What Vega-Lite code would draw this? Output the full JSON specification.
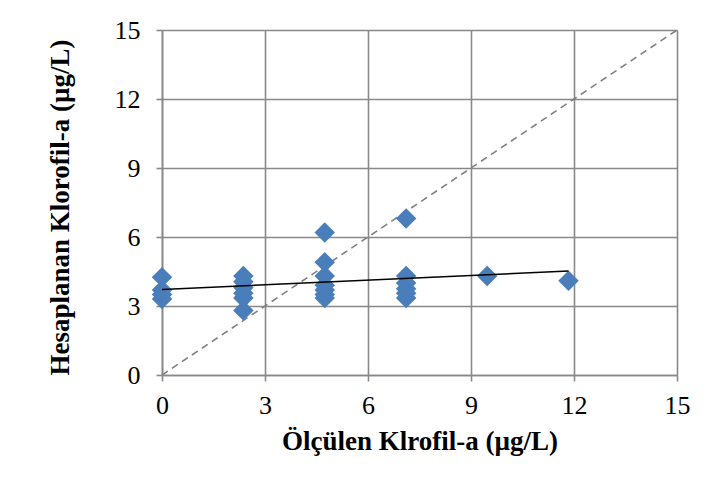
{
  "$schema": "https://vega.github.io/schema/vega-lite/v6.json",
  "autosize": "none",
  "width": 515,
  "height": 345,
  "padding": {"left": 162, "top": 30, "right": 30, "bottom": 117},
  "background": "white",
  "config": {
    "view": {"stroke": null},
    "font": "Liberation Serif",
    "axis": {
      "gridColor": "#898989",
      "gridWidth": 1.6,
      "gridOpacity": 1,
      "domainColor": "#898989",
      "domainWidth": 1.6,
      "tickColor": "#898989",
      "tickWidth": 1.6,
      "tickSize": 6,
      "labelFlush": false,
      "labelFont": "Liberation Serif",
      "labelFontSize": 26,
      "labelColor": "black",
      "titleFont": "Liberation Serif",
      "titleFontSize": 27,
      "titleFontWeight": "bold",
      "titleColor": "black"
    }
  },
  "datasets": {
    "points": [
      {"x": 0, "y": 4.25}, {"x": 0, "y": 3.7}, {"x": 0, "y": 3.5}, {"x": 0, "y": 3.3},
      {"x": 2.37, "y": 4.3}, {"x": 2.37, "y": 4.05}, {"x": 2.37, "y": 3.8}, {"x": 2.37, "y": 3.55}, {"x": 2.37, "y": 3.35}, {"x": 2.37, "y": 2.8},
      {"x": 4.74, "y": 6.2}, {"x": 4.74, "y": 4.9}, {"x": 4.74, "y": 4.3}, {"x": 4.74, "y": 3.9}, {"x": 4.74, "y": 3.7}, {"x": 4.74, "y": 3.5}, {"x": 4.74, "y": 3.35},
      {"x": 7.11, "y": 6.8}, {"x": 7.11, "y": 4.3}, {"x": 7.11, "y": 4.0}, {"x": 7.11, "y": 3.75}, {"x": 7.11, "y": 3.55}, {"x": 7.11, "y": 3.35},
      {"x": 9.47, "y": 4.3},
      {"x": 11.84, "y": 4.1}
    ],
    "oneToOne": [{"x": 0, "y": 0}, {"x": 15, "y": 15}],
    "trend": [{"x": 0, "y": 3.72}, {"x": 11.84, "y": 4.52}]
  },
  "layer": [
    {
      "data": {"name": "oneToOne"},
      "mark": {"type": "line", "color": "#808080", "strokeWidth": 1.6, "strokeDash": [7, 5], "clip": false},
      "encoding": {
        "x": {"field": "x", "type": "quantitative", "scale": {"domain": [0, 15], "nice": false, "zero": true},
              "axis": {"values": [0, 3, 6, 9, 12, 15], "title": "Ölçülen Klrofil-a (µg/L)", "labelPadding": 11, "titleY": 74, "titleBaseline": "alphabetic"}},
        "y": {"field": "y", "type": "quantitative", "scale": {"domain": [0, 15], "nice": false, "zero": true},
              "axis": {"values": [0, 3, 6, 9, 12, 15], "title": "Hesaplanan Klorofil-a (µg/L)", "labelPadding": 16, "titleX": -94, "titleY": 177, "titleBaseline": "alphabetic"}}
      }
    },
    {
      "data": {"name": "points"},
      "mark": {"type": "point", "shape": "diamond", "filled": true, "color": "#4A7EBB", "opacity": 1, "size": 420},
      "encoding": {
        "x": {"field": "x", "type": "quantitative"},
        "y": {"field": "y", "type": "quantitative"}
      }
    },
    {
      "data": {"name": "trend"},
      "mark": {"type": "line", "color": "black", "strokeWidth": 1.6},
      "encoding": {
        "x": {"field": "x", "type": "quantitative"},
        "y": {"field": "y", "type": "quantitative"}
      }
    }
  ]
}
